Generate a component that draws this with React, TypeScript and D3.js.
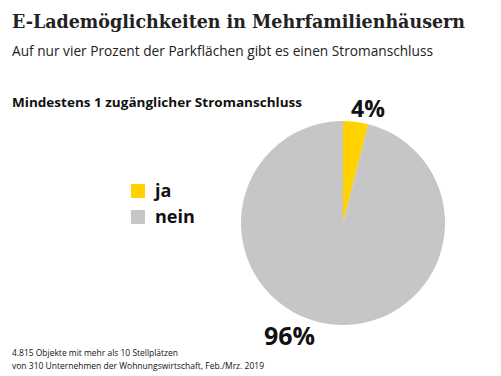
import React from "react";
import * as d3 from "d3";

const categories = ["ja", "nein"];
const values = [4, 96];
const labels = ["4%", "96%"];
const colors = ["#FFD200", "#C6C6C6"];

export default function App() {
  const W = 501, H = 376;
  const cx = 343, cy = 223, r = 102;
  const pie = d3.pie<number>().sort(null).value((d) => d);
  const arcs = pie(values);
  const arcGen = d3.arc<d3.PieArcDatum<number>>().innerRadius(0).outerRadius(r);
  return (
    <svg width={W} height={H} style={{ position: "absolute", left: 0, top: 0, background: "#fff" }}>
      <text x={12} y={28} fontFamily="'DejaVu Serif Condensed', 'DejaVu Serif'" fontWeight="bold" fontSize={18.5} fill="#222"
        textLength={453} lengthAdjust="spacingAndGlyphs">
        E-Lademöglichkeiten in Mehrfamilienhäusern
      </text>
      <text x={12} y={56} fontFamily="Open Sans" fontSize={14.5} fill="#222"
        textLength={421} lengthAdjust="spacingAndGlyphs">
        Auf nur vier Prozent der Parkflächen gibt es einen Stromanschluss
      </text>
      <text x={12} y={107} fontFamily="Open Sans" fontWeight="bold" fontSize={13} fill="#111"
        textLength={290} lengthAdjust="spacingAndGlyphs">
        Mindestens 1 zugänglicher Stromanschluss
      </text>
      <g transform={`translate(${cx},${cy})`}>
        {arcs.map((a, i) => (
          <path key={categories[i]} d={arcGen(a) || ""} fill={colors[i]} />
        ))}
      </g>
      <text x={351} y={117} fontFamily="Open Sans" fontWeight="bold" fontSize={23} fill="#111">
        {labels[0]}
      </text>
      <text x={264} y={345} fontFamily="Open Sans" fontWeight="bold" fontSize={25} fill="#111">
        {labels[1]}
      </text>
      {categories.map((c, i) => (
        <g key={c} transform={`translate(131,${184 + i * 26})`}>
          <rect width={14} height={14} fill={colors[i]} />
          <text x={24} y={13} fontFamily="Open Sans" fontWeight="bold" fontSize={18} fill="#111">
            {c}
          </text>
        </g>
      ))}
      <text x={12} y={356} fontFamily="Open Sans" fontSize={9} fill="#111"
        textLength={166} lengthAdjust="spacingAndGlyphs">
        4.815 Objekte mit mehr als 10 Stellplätzen
      </text>
      <text x={12} y={369} fontFamily="Open Sans" fontSize={9} fill="#111"
        textLength={252} lengthAdjust="spacingAndGlyphs">
        von 310 Unternehmen der Wohnungswirtschaft, Feb./Mrz. 2019
      </text>
    </svg>
  );
}
